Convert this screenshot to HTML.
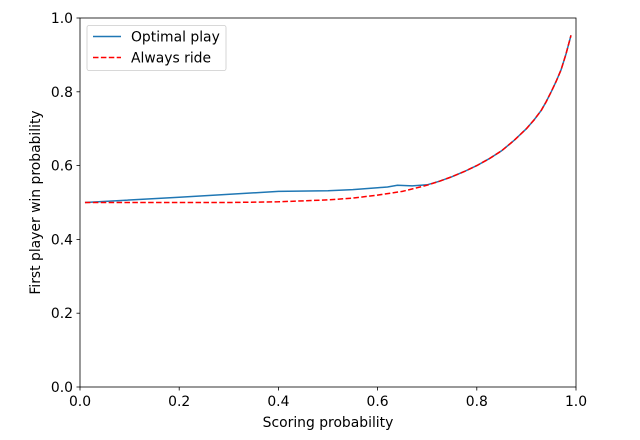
<!DOCTYPE html>
<html><head><style>body{margin:0;background:#fff}svg{display:block}text{font-family:"DejaVu Sans","Liberation Sans",sans-serif;font-size:13.9px;fill:#000}</style></head><body>
<svg width="640" height="440" xmlns="http://www.w3.org/2000/svg">
<rect width="640" height="440" fill="#fff"/>
<g stroke="#000" stroke-width="0.8">
<line x1="80" y1="387" x2="80" y2="390.5"/><line x1="179.2" y1="387" x2="179.2" y2="390.5"/><line x1="278.4" y1="387" x2="278.4" y2="390.5"/><line x1="377.6" y1="387" x2="377.6" y2="390.5"/><line x1="476.8" y1="387" x2="476.8" y2="390.5"/><line x1="576" y1="387" x2="576" y2="390.5"/>
<line x1="76.5" y1="387" x2="80" y2="387"/><line x1="76.5" y1="313.2" x2="80" y2="313.2"/><line x1="76.5" y1="239.4" x2="80" y2="239.4"/><line x1="76.5" y1="165.6" x2="80" y2="165.6"/><line x1="76.5" y1="91.8" x2="80" y2="91.8"/><line x1="76.5" y1="18" x2="80" y2="18"/>
</g>
<g text-anchor="middle">
<text x="80" y="406">0.0</text><text x="179.2" y="406">0.2</text><text x="278.4" y="406">0.4</text><text x="377.6" y="406">0.6</text><text x="476.8" y="406">0.8</text><text x="576" y="406">1.0</text>
<text x="328" y="427">Scoring probability</text>
</g>
<g text-anchor="end">
<text x="73" y="392">0.0</text><text x="73" y="318">0.2</text><text x="73" y="244.5">0.4</text><text x="73" y="170.5">0.6</text><text x="73" y="97">0.8</text><text x="73" y="23">1.0</text>
</g>
<text transform="translate(40,202.5) rotate(-90)" text-anchor="middle">First player win probability</text>
<polyline fill="none" stroke="#1f77b4" stroke-width="1.5" points="84.96,202.5 179.2,197.3 278.4,191.4 328,190.7 352.8,189.6 377.6,187.7 387.5,187 397.4,185.2 412.3,185.9 427.2,184.8 439.6,181.2 452,176.7 464.4,171.5 476.8,165.6 489.2,158.7 501.6,150.8 514,140.5 526.4,128.7 534,120 541.3,110.3 546.3,101.5 551.2,91.8 556.1,81.5 561.1,69.7 566,54 571,35.3"/>
<polyline fill="none" stroke="#f00" stroke-width="1.5" stroke-dasharray="5.5,2.4" points="84.96,202.5 228.8,202.5 278.4,201.8 328,199.9 352.8,198.1 377.6,195.1 402.4,191.4 427.2,185.2 439.6,181.2 452,176.7 464.4,171.5 476.8,165.6 489.2,158.7 501.6,150.8 514,140.5 526.4,128.7 534,120 541.3,110.3 546.3,101.5 551.2,91.8 556.1,81.5 561.1,69.7 566,54 571,35.3"/>
<rect x="80" y="18" width="496" height="369" fill="none" stroke="#000" stroke-width="0.8"/>
<rect x="87" y="25.5" width="139" height="45" rx="2" fill="#fff" fill-opacity="0.8" stroke="#ccc" stroke-width="0.8"/>
<line x1="93" y1="36.5" x2="121" y2="36.5" stroke="#1f77b4" stroke-width="1.5"/>
<line x1="93" y1="57.5" x2="121" y2="57.5" stroke="#f00" stroke-width="1.5" stroke-dasharray="5.5,2.4"/>
<text x="131" y="41.5">Optimal play</text>
<text x="131" y="62.5">Always ride</text>
</svg>
</body></html>
